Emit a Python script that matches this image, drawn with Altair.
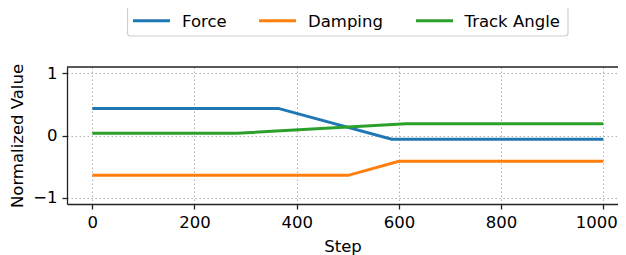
import altair as alt
import pandas as pd

series_names = ["Force", "Damping", "Track Angle"]
force_steps = [0, 364, 586, 1000]
force_vals = [0.435, 0.435, -0.06, -0.06]
damping_steps = [0, 501, 600, 1000]
damping_vals = [-0.64, -0.64, -0.415, -0.415]
track_steps = [0, 284, 614, 1000]
track_vals = [0.037, 0.037, 0.19, 0.19]
x_ticks = [0, 200, 400, 600, 800, 1000]
y_ticks = [-1, 0, 1]
colors = ["#1f77b4", "#ff7f0e", "#2ca02c"]

rows = []
for name, steps, vals in zip(series_names,
                             [force_steps, damping_steps, track_steps],
                             [force_vals, damping_vals, track_vals]):
    for i, (s, v) in enumerate(zip(steps, vals)):
        rows.append({"series": name, "step": s, "value": v, "order": i})
df = pd.DataFrame(rows)

FONT = "DejaVu Sans"
FS = 16.5
W, H = 551, 137

lines = alt.Chart(df).mark_line(strokeWidth=3).encode(
    x=alt.X("step:Q", scale=alt.Scale(domain=[-49.5, 1028.8], nice=False, zero=False),
            axis=alt.Axis(values=x_ticks, title="Step", format="d",
                          labelFlush=20, labelFlushOffset=14)),
    y=alt.Y("value:Q", scale=alt.Scale(domain=[-1.1, 1.1], nice=False),
            axis=alt.Axis(values=y_ticks, title="Normalized Value", format="d")),
    color=alt.Color("series:N", scale=alt.Scale(domain=series_names, range=colors), legend=None),
    detail="series:N",
    order="order:Q",
)

# top spine
top_spine = alt.Chart(pd.DataFrame({"s": [0]})).mark_rule(color="#222", strokeWidth=1.3).encode(
    x=alt.value(0), x2=alt.value(W), y=alt.value(0))

# legend (drawn by hand, matplotlib style)
legend_df = pd.DataFrame({"series": series_names})
box = alt.Chart(pd.DataFrame({"s": [0]})).mark_rect(
    fill="white", stroke="#d0d0d0", strokeWidth=1.2, cornerRadius=3, clip=False).encode(
    x=alt.value(60.5), x2=alt.value(501), y=alt.value(-60.3), y2=alt.value(-31))
sym_x = [66, 192, 349]
lab_x = [115, 241, 397.5]
legend_layers = []
for i, name in enumerate(series_names):
    d = legend_df[legend_df.series == name]
    legend_layers.append(alt.Chart(d).mark_rule(strokeWidth=3, clip=False).encode(
        x=alt.value(sym_x[i]), x2=alt.value(sym_x[i] + 37), y=alt.value(-46.3),
        color=alt.value(colors[i])))
    legend_layers.append(alt.Chart(d).mark_text(
        align="left", baseline="alphabetic", font=FONT, fontSize=FS, color="#000", clip=False).encode(
        x=alt.value(lab_x[i]), y=alt.value(-40.3), text="series:N"))

chart = alt.layer(lines, top_spine, box, *legend_layers).properties(
    width=W, height=H,
    autosize=alt.AutoSizeParams(type="none"),
    padding={"left": 59, "top": 59, "right": 0, "bottom": 51},
).configure_view(
    stroke=None
).configure_axis(
    domain=True, domainColor="#222", domainWidth=1.3,
    grid=True, gridColor="#b0b0b0", gridDash=[1.5, 2.5], gridWidth=1,
    tickColor="#222", tickSize=5, tickWidth=1.3,
    labelFont=FONT, labelFontSize=FS, labelColor="#000", labelPadding=5,
    titleFont=FONT, titleFontSize=FS, titleFontWeight="normal", titleColor="#000",
).configure_axisX(titlePadding=8).configure_axisY(titlePadding=7)

chart.save("out.html", embed_options={"renderer": "svg", "actions": False})
